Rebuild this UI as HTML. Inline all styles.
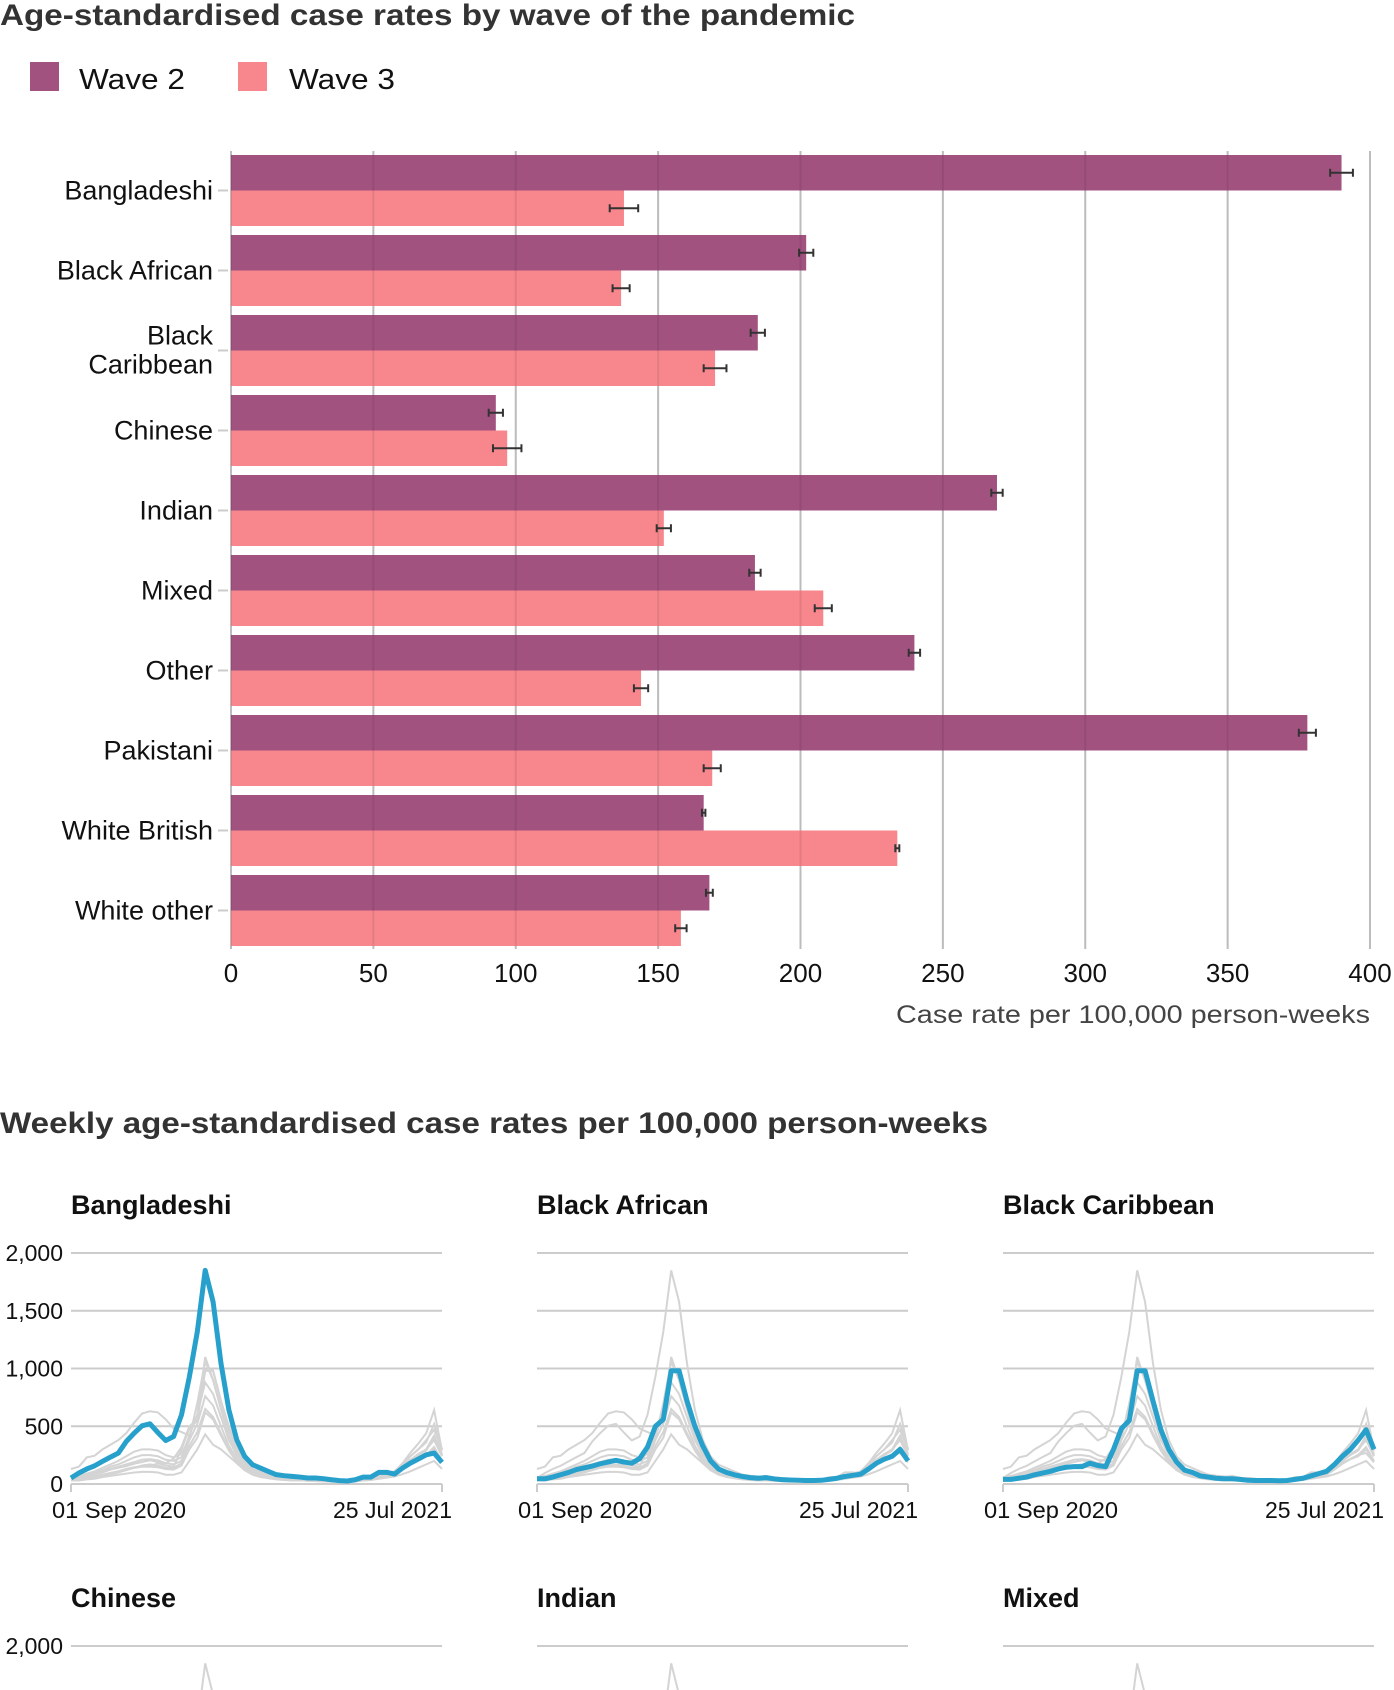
<!DOCTYPE html>
<html><head><meta charset="utf-8">
<style>
html,body{margin:0;padding:0;background:#fff;overflow:hidden;width:1394px;height:1690px;}
svg{display:block;font-family:"Liberation Sans",sans-serif;}
</style></head>
<body>
<svg id="root" width="1394" height="1690" viewBox="0 0 1394 1690" xmlns="http://www.w3.org/2000/svg">
<text x="0" y="25" font-size="30" font-weight="bold" fill="#333" textLength="855" lengthAdjust="spacingAndGlyphs">Age-standardised case rates by wave of the pandemic</text>
<g>
 <rect x="30" y="62" width="29" height="29" fill="#a2527f"/>
 <text x="79" y="89" font-size="29" fill="#111" textLength="106" lengthAdjust="spacingAndGlyphs">Wave 2</text>
 <rect x="238" y="62" width="29" height="29" fill="#f7878c"/>
 <text x="289" y="89" font-size="29" fill="#111" textLength="106" lengthAdjust="spacingAndGlyphs">Wave 3</text>
</g>
<g id="bars"></g>
<text x="0" y="1133" font-size="30" font-weight="bold" fill="#333" textLength="988" lengthAdjust="spacingAndGlyphs">Weekly age-standardised case rates per 100,000 person-weeks</text>
<g id="multiples"></g>
</svg>
<script>
const categories = ["Bangladeshi","Black African","Black Caribbean","Chinese","Indian","Mixed","Other","Pakistani","White British","White other"];
const wave2 = [390,202,185,93,269,184,240,378,166,168];
const wave2Err = [4,2.5,2.5,2.5,2,2,2,3,0.6,1.2];
const wave3 = [138,137,170,97,152,208,144,169,234,158];
const wave3Err = [5,3,4,5,2.5,3,2.5,3,0.7,2];
const xTicks = [0,50,100,150,200,250,300,350,400];

const NS="http://www.w3.org/2000/svg";
function mk(tag, attrs, parent){const e=document.createElementNS(NS,tag);for(const k in attrs)e.setAttribute(k,attrs[k]);parent.appendChild(e);return e;}

const bx0=231, bx1=1370, gTop=155, step=80, bh=35.5, gridTop=151, gridBot=949;
const xs = v => bx0 + (bx1-bx0)*v/400;
const bars=document.getElementById('bars');
xTicks.forEach(t=>{
  const l=mk('line',{x1:xs(t),x2:xs(t),y1:gridTop,y2:gridBot,stroke:'#cccccc','stroke-width':2},bars);
  
  
  const tx=mk('text',{x:xs(t),y:982,'font-size':26,'text-anchor':'middle',fill:'#111'},bars);
  tx.textContent=t;
  
  
});
categories.forEach((c,i)=>{
  const y=gTop+i*step;
  const r2=mk('rect',{x:bx0,y:y,width:xs(wave2[i])-bx0,height:bh,fill:'#a2527f'},bars);
  
  
  const r3=mk('rect',{x:bx0,y:y+bh,width:xs(wave3[i])-bx0,height:bh,fill:'#f7878c'},bars);
  
  
  [[wave2[i],wave2Err[i],y+bh/2],[wave3[i],wave3Err[i],y+bh*1.5]].forEach(([v,e,cy])=>{
    const g=mk('g',{stroke:'#333','stroke-width':2},bars);
    
    
    mk('line',{x1:xs(v-e),x2:xs(v+e),y1:cy,y2:cy},g);
    mk('line',{x1:xs(v-e),x2:xs(v-e),y1:cy-4,y2:cy+4},g);
    mk('line',{x1:xs(v+e),x2:xs(v+e),y1:cy-4,y2:cy+4},g);
  });
  const tk=mk('line',{x1:218,x2:228,y1:y+bh,y2:y+bh,stroke:'#ccc','stroke-width':2},bars);
  
  
  const lbl=mk('text',{x:213,'font-size':27,'text-anchor':'end',fill:'#111'},bars);
  
  
  if(c==="Black Caribbean"){
    const a=mk('tspan',{x:213,y:y+bh-6},lbl);a.textContent='Black';
    const b=mk('tspan',{x:213,y:y+bh+23},lbl);b.textContent='Caribbean';
  } else { lbl.setAttribute('y',y+bh+9); lbl.textContent=c; }
});
xTicks.forEach(t=>{
  const l=mk('line',{x1:xs(t),x2:xs(t),y1:gridTop,y2:gridBot,stroke:'rgba(0,0,0,0.08)','stroke-width':2},bars);
  
  
});
const at=mk('text',{x:1370,y:1023,'font-size':25,'text-anchor':'end',fill:'#444',textLength:474,lengthAdjust:'spacingAndGlyphs'},bars);
at.textContent='Case rate per 100,000 person-weeks';



const weeks = 48;
const yTicksSM = [0,500,1000,1500,2000];
const yTickLabelsSM = ["0","500","1,000","1,500","2,000"];
const bangladeshi = [52,95,130,158,196,233,268,368,440,504,521,446,377,411,599,930,1318,1850,1577,1045,642,383,239,167,138,109,81,72,66,60,52,52,46,37,29,26,37,60,60,101,101,86,138,181,216,253,268,187];
const blackAfrican = [45,45,60,80,100,125,140,155,175,190,205,190,180,220,320,500,560,980,980,720,500,330,200,130,100,80,65,55,50,55,45,38,35,33,30,30,32,40,50,65,75,85,130,180,215,240,300,200];
const blackCaribbean = [40,40,50,60,80,95,110,130,145,150,150,180,160,150,300,480,550,980,980,720,470,300,190,120,100,70,60,50,45,45,40,32,30,30,30,28,30,40,50,70,90,110,170,240,300,380,470,300];
const chinese = [30,30,40,45,60,70,80,90,100,105,105,100,80,80,100,200,300,430,340,300,240,180,120,80,60,50,40,35,30,32,28,25,22,20,20,20,22,30,35,45,55,65,85,110,140,170,200,130];
const indian = [60,70,90,110,140,170,200,240,280,300,300,290,250,230,260,400,700,1060,900,650,420,270,180,130,100,80,65,55,50,55,45,38,35,30,30,30,35,45,55,65,80,100,160,240,300,360,520,300];
const mixed = [45,55,70,90,110,130,150,170,190,210,215,205,180,170,200,380,520,760,680,500,330,220,140,100,80,65,52,45,42,45,38,33,30,28,27,27,30,38,48,58,72,90,140,200,250,290,400,250];
const other = [50,60,80,100,120,150,170,200,230,250,250,240,210,200,230,420,600,880,780,580,380,250,160,110,85,70,55,48,45,48,40,35,32,30,28,28,32,40,50,60,75,95,150,210,260,300,420,260];
const pakistani = [130,150,230,245,300,340,380,440,530,610,630,620,560,480,450,420,600,1100,900,650,420,260,170,130,110,95,80,70,60,70,55,45,40,35,35,35,40,50,60,70,90,110,180,270,350,440,640,290];
const whiteBritish = [30,35,45,55,70,85,100,120,140,160,170,160,140,140,180,330,450,650,580,440,300,200,130,90,70,55,45,38,35,35,30,28,26,25,25,25,28,35,45,55,70,90,140,200,250,300,380,240];
const whiteOther = [35,40,55,65,80,95,110,125,140,150,150,145,130,125,160,300,400,620,560,420,290,190,120,85,65,52,42,36,33,34,29,26,24,23,23,23,26,32,40,50,62,80,125,175,215,250,320,200];
const seriesNames = ["Bangladeshi","Black African","Black Caribbean","Chinese","Indian","Mixed","Other","Pakistani","White British","White other"];
const seriesValues = [bangladeshi,blackAfrican,blackCaribbean,chinese,indian,mixed,other,pakistani,whiteBritish,whiteOther];

const mult=document.getElementById('multiples');
const colX=[71,537,1003], rowTitleY=[1214,1607], pw=371, ph=231, gridOffset=39;
seriesNames.forEach((name,idx)=>{
  const col=idx%3,row=Math.floor(idx/3);
  if(row>1) return;
  const x0=colX[col], ty=rowTitleY[row], top=ty+gridOffset, base=top+ph;
  const sx=i=>x0+pw*i/(weeks-1), sy=v=>base-ph*v/2000;
  const g=mk('g',{},mult);
  
  
  const t=mk('text',{x:x0,y:ty,'font-size':27,'font-weight':'bold',fill:'#111'},g);
  t.textContent=name;
  
  
  yTicksSM.forEach((v,k)=>{
    const l=mk('line',{x1:x0,x2:x0+pw,y1:sy(v),y2:sy(v),stroke:'#ccc','stroke-width':2},g);
    
    
    if(col===0){
      const tl=mk('text',{x:63,y:sy(v)+8,'font-size':23,'text-anchor':'end',fill:'#111'},g);
      tl.textContent=yTickLabelsSM[k];
      
      
    }
  });
  seriesValues.forEach((vals,j)=>{
    if(j===idx) return;
    const p=mk('polyline',{points:vals.map((v,i)=>sx(i)+','+sy(v)).join(' '),fill:'none',stroke:'#d4d4d4','stroke-width':2},g);
    
    
  });
  const hl=mk('polyline',{points:seriesValues[idx].map((v,i)=>sx(i)+','+sy(v)).join(' '),fill:'none',stroke:'#27a0cc','stroke-width':5,'stroke-linejoin':'round'},g);
  
  
  [x0,x0+pw].forEach(xx=>{
    const tk=mk('line',{x1:xx,x2:xx,y1:base,y2:base+8,stroke:'#ccc','stroke-width':2},g);
    
    
  });
  const d1=mk('text',{x:x0-19,y:base+34,'font-size':23,fill:'#111',textLength:134,lengthAdjust:'spacingAndGlyphs'},g);
  d1.textContent='01 Sep 2020';
  
  
  const d2=mk('text',{x:x0+pw+10,y:base+34,'font-size':23,'text-anchor':'end',fill:'#111',textLength:119,lengthAdjust:'spacingAndGlyphs'},g);
  d2.textContent='25 Jul 2021';
  
  
});
</script>
</body></html>
